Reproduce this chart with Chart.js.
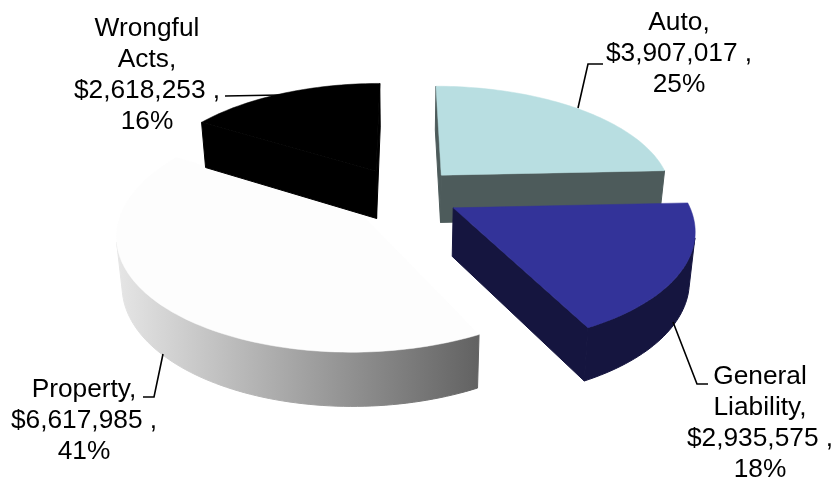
<!DOCTYPE html>
<html>
<head>
<meta charset="utf-8">
<style>
  html, body { margin: 0; padding: 0; background: #ffffff; }
  #wrap { position: relative; width: 834px; height: 479px; }
</style>
<script src="https://cdn.jsdelivr.net/npm/chart.js@4"></script>
</head>
<body>
<div id="wrap"><canvas id="chart"></canvas></div>
<script>
// Premium by line of coverage
const categories = ["Auto", "General Liability", "Property", "Wrongful Acts"];
const amounts = [3907017, 2935575, 6617985, 2618253];
const percents = [25, 18, 41, 16];
const nameLines = [["Auto,"], ["General", "Liability,"], ["Property,"], ["Wrongful", "Acts,"]];

const topColors = ["#b8dee1", "#333399", "#fdfdfd", "#000000"];
const wallColors = [["#4d5b5b"], ["#15153f"], ["#e6e6e6", "#626262"], ["#000000"]];
const paintOrder = [0, 2, 1, 3];

// Label placement: centre x, first baseline, leader polyline
const labelLayout = [
  { x: 679, y: 30, leader: [[578, 108], [588, 64], [603, 64]] },
  { x: 760, y: 384, leader: [[673, 322], [697, 384], [708, 384]] },
  { x: 84, y: 397, leader: [[163, 354], [154, 397], [143, 397]] },
  { x: 147, y: 36, leader: [[225, 96], [280, 95]] }
];
const LINE_HEIGHT = 31;
const LABEL_FONT = "26.3px 'Liberation Sans', Arial, sans-serif";

// Camera for the tilted pie
const view = { xc: 403, y0: 194, spread: 660, depth: 1400, radius: 232, explode: 114,
               wallBase: 22, wallPersp: 26, wallInset: 0.98 };

function project(wx, wy) {
  const w = 1 / (1 - wy / view.depth);
  return { x: view.xc + wx * w, y: view.y0 - view.spread + view.spread * w, w };
}

function lower(p) {
  return {
    x: view.xc + (p.x - view.xc) * view.wallInset,
    y: p.y + view.wallBase + view.wallPersp * p.w
  };
}

function paintFace(ctx, pts, fill, seam) {
  ctx.beginPath();
  pts.forEach((p, i) => (i ? ctx.lineTo(p.x, p.y) : ctx.moveTo(p.x, p.y)));
  ctx.closePath();
  ctx.fillStyle = fill;
  ctx.strokeStyle = fill;
  ctx.lineWidth = seam;
  ctx.lineJoin = "round";
  ctx.fill();
  ctx.stroke();
}

// An edge's wall shows only when moving down from it leaves the top face
function edgeFacesViewer(p, q, inside) {
  const ex = q.x - p.x, ey = q.y - p.y;
  let nx = ey, ny = -ex;
  if (nx * (p.x - inside.x) + ny * (p.y - inside.y) < 0) { nx = -nx; ny = -ny; }
  const low = lower(p);
  return nx * (low.x - p.x) + ny * (low.y - p.y) > 0;
}

// Top face and walls of one wedge, taken from the arc element's own geometry
function drawWedge(ctx, el, idx) {
  const r = view.radius;
  const mid = (el.startAngle + el.endAngle) / 2;
  const off = (el.options.offset || 0) / 2;
  const ax = Math.cos(mid) * off, ay = Math.sin(mid) * off;
  const apex = project(ax, ay);
  const rim = [];
  const steps = Math.max(8, Math.ceil((el.endAngle - el.startAngle) * 40));
  for (let i = 0; i <= steps; i++) {
    const a = el.startAngle + (el.endAngle - el.startAngle) * i / steps;
    rim.push(project(ax + Math.cos(a) * r, ay + Math.sin(a) * r));
  }
  const rimLow = rim.map(lower);
  const apexLow = lower(apex);
  const inside = project(ax + Math.cos(mid) * r * 0.5, ay + Math.sin(mid) * r * 0.5);

  const stops = wallColors[idx];
  let wallFill = stops[0];
  if (stops.length > 1) {
    const xs = rim.map(p => p.x);
    const g = ctx.createLinearGradient(Math.min(...xs), 0, Math.max(...xs), 0);
    stops.forEach((c, i) => g.addColorStop(i / (stops.length - 1), c));
    wallFill = g;
  }

  if (edgeFacesViewer(apex, rim[0], inside)) {
    paintFace(ctx, [apex, rim[0], rimLow[0], apexLow], wallFill, 1);
  }
  if (edgeFacesViewer(apex, rim[steps], inside)) {
    paintFace(ctx, [apex, rim[steps], rimLow[steps], apexLow], wallFill, 1);
  }
  let first = -1, last = -1;
  for (let i = 0; i < steps; i++) {
    if (edgeFacesViewer(rim[i], rim[i + 1], apex)) {
      if (first < 0) first = i;
      last = i + 1;
    }
  }
  if (first >= 0) {
    paintFace(ctx, rim.slice(first, last + 1).concat(rimLow.slice(first, last + 1).reverse()), wallFill, 1);
  }

  paintFace(ctx, [apex].concat(rim), el.options.backgroundColor, 0.5);
}

const wedgePlugin = {
  id: "wedges3d",
  beforeDatasetDraw(chart, args) {
    const ctx = chart.ctx;
    ctx.save();
    paintOrder.forEach(i => drawWedge(ctx, args.meta.data[i], i));
    ctx.restore();
    return false;
  },
  afterDraw(chart) {
    const ctx = chart.ctx;
    ctx.save();
    ctx.strokeStyle = "#000000";
    ctx.lineWidth = 1.6;
    ctx.fillStyle = "#000000";
    ctx.font = LABEL_FONT;
    ctx.textAlign = "center";
    ctx.textBaseline = "alphabetic";
    categories.forEach((_, i) => {
      const spot = labelLayout[i];
      ctx.beginPath();
      spot.leader.forEach((p, k) => (k ? ctx.lineTo(p[0], p[1]) : ctx.moveTo(p[0], p[1])));
      ctx.stroke();
      const lines = nameLines[i].concat(["$" + amounts[i].toLocaleString("en-US") + " ,", percents[i] + "%"]);
      lines.forEach((t, k) => ctx.fillText(t, spot.x, spot.y + k * LINE_HEIGHT));
    });
    ctx.restore();
  }
};

new Chart(document.getElementById("chart"), {
  type: "pie",
  data: {
    labels: categories,
    datasets: [{ data: amounts, backgroundColor: topColors, borderWidth: 0, offset: view.explode }]
  },
  options: {
    responsive: true,
    maintainAspectRatio: false,
    animation: false,
    layout: { padding: 0 },
    plugins: { legend: { display: false }, tooltip: { enabled: false } }
  },
  plugins: [wedgePlugin]
});
</script>
</body>
</html>
